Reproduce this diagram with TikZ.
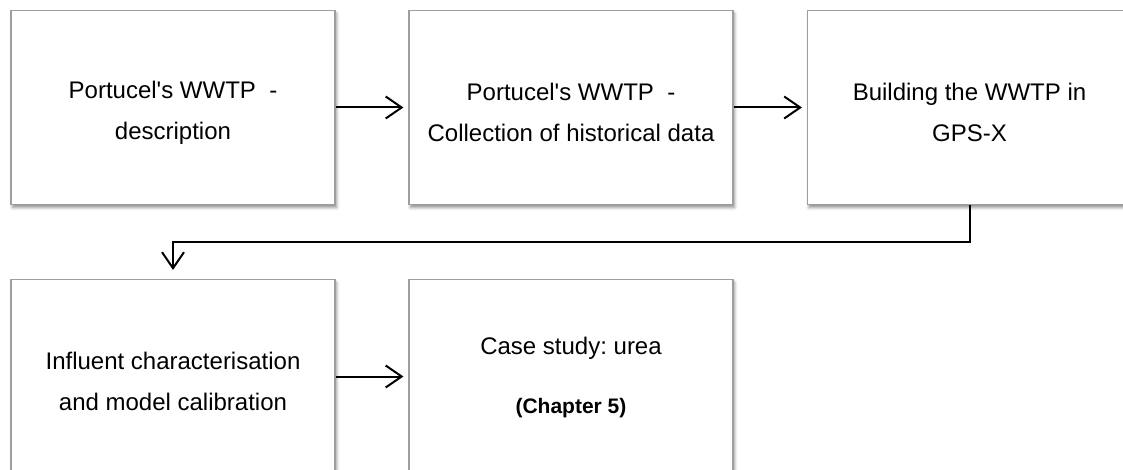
\documentclass[tikz,border=0pt]{standalone}
\usepackage{fontspec}
\setmainfont{Liberation Sans}
\usetikzlibrary{arrows.meta,shadows.blur}
\frenchspacing
\begin{document}
\begin{tikzpicture}[x=1pt,y=-1pt,
  stagebox/.style={draw=black!38, line width=1.1pt, fill=white,
    minimum width=324pt, minimum height=194pt, inner sep=0pt,
    blur shadow={shadow xshift=1.5pt, shadow yshift=-3pt, shadow blur radius=3pt, shadow opacity=45}},
  stagetext/.style={align=center, inner sep=0pt,
    font=\fontsize{24}{41}\selectfont},
  arr/.style={line width=2pt, -{Straight Barb[length=16pt,width=22pt]}}]
\useasboundingbox (0,0) rectangle (1123,470);
\node[stagebox] (b1) at (173,107.5) {};
\node[stagebox] (b2) at (571,107.5) {};
\node[stagebox] (b3) at (969.5,107.5) {};
\node[stagebox] (b4) at (173,376.5) {};
\node[stagebox] (b5) at (571,376.5) {};
\node[stagetext] (t1) at ([yshift=-5pt]b1.center) {Portucel\textquotesingle s WWTP\ \ -\\description};
\node[stagetext] (t2) at ([yshift=-5pt]b2.center) {Portucel\textquotesingle s WWTP\ \ -\\Collection of historical data};
\node[stagetext] (t3) at ([yshift=-5pt]b3.center) {Building the WWTP in\\GPS-X};
\node[stagetext] (t4) at ([yshift=-5pt]b4.center) {Influent characterisation\\and model calibration};
\node[stagetext] (t5) at ([yshift=-1pt]b5.center) {Case study: urea\\[18pt]{\fontsize{21}{41}\selectfont\bfseries (Chapter 5)}};
\coordinate (turn) at (0,242);
\draw[arr] (b1.east) -- ([xshift=-5pt]b2.west);
\draw[arr] (b2.east) -- ([xshift=-5pt]b3.west);
\draw[arr] (b4.east) -- ([xshift=-5pt]b5.west);
\draw[arr] (b3.south) |- (b4.north |- turn) -- ([yshift=9pt]b4.north);
\end{tikzpicture}
\end{document}
